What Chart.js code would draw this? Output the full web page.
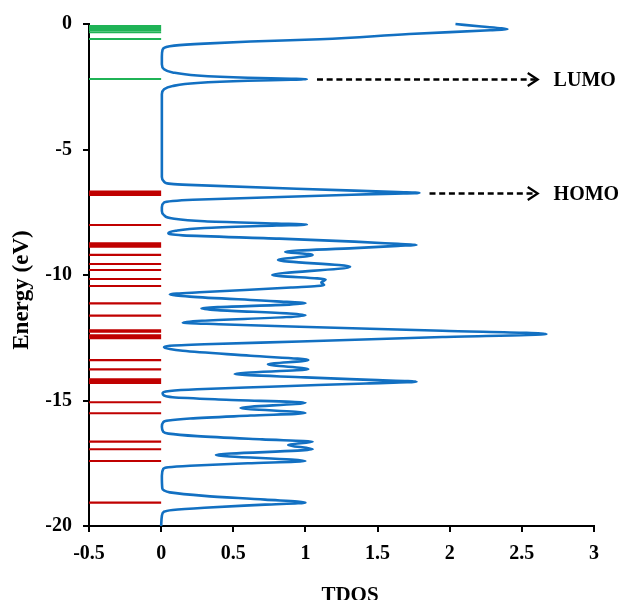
<!DOCTYPE html>
<html>
<head>
<meta charset="utf-8">
<script src="https://cdn.jsdelivr.net/npm/chart.js@4/dist/chart.umd.min.js"></script>
<style>
  html, body { margin: 0; padding: 0; background: #fff; }
  canvas { display: block; }
</style>
</head>
<body>
<canvas id="dos" width="623" height="600"></canvas>
<script>
// Total density of states: energy (eV) and TDOS value at each sampled point
const tdosEnergy = [
  0.00, -0.10, -0.17, -0.21, -0.25, -0.40, -0.61, -0.70, -0.78, -0.86, -0.93, -1.02, -1.30,
  -1.60, -1.80, -1.93, -2.05, -2.14, -2.18, -2.20, -2.22, -2.26, -2.35, -2.47, -2.60, -2.80,
  -4.50, -6.10, -6.28, -6.37, -6.41, -6.64, -6.70, -6.73, -6.76, -6.80, -7.00, -7.05, -7.11, -7.30,
  -7.45, -7.62, -7.75, -7.86, -7.95, -7.99, -8.03, -8.13, -8.24, -8.34, -8.42, -8.55, -8.67,
  -8.76, -8.80, -8.84, -8.93, -9.07, -9.20, -9.40, -9.67, -10.00, -10.18, -10.30, -10.40,
  -10.50, -10.68, -10.77, -10.86, -11.05, -11.13, -11.33, -11.60, -11.90, -11.96, -12.06,
  -12.22, -12.35, -12.47, -12.65, -12.76, -12.82, -12.88, -12.95, -13.02, -13.22, -13.39,
  -13.56, -13.75, -13.94, -14.08, -14.18, -14.25, -14.32, -14.45, -14.55, -14.62, -14.71,
  -14.80, -14.87, -14.97, -15.09, -15.30, -15.50, -15.60, -15.72, -15.80, -15.86, -16.05,
  -16.25, -16.32, -16.42, -16.55, -16.64, -16.77, -16.94, -17.17, -17.41, -17.50, -17.60,
  -17.66, -17.72, -18.00, -18.50, -18.58, -18.66, -18.80, -18.95, -19.07, -19.15, -19.27,
  -19.36, -19.43, -19.60, -20.00
];
const tdosValue = [
  2.04, 2.22, 2.36, 2.40, 2.28, 1.72, 1.10, 0.62, 0.30, 0.09, 0.03, 0.01, 0.005,
  0.005, 0.02, 0.08, 0.25, 0.60, 0.90, 1.01, 0.90, 0.60, 0.25, 0.08, 0.02, 0.005,
  0.005, 0.005, 0.02, 0.07, 0.19, 1.34, 1.64, 1.79, 1.62, 1.32, 0.22, 0.08, 0.02, 0.005,
  0.005, 0.02, 0.08, 0.30, 0.80, 1.01, 0.80, 0.30, 0.10, 0.05, 0.15, 0.82, 1.34,
  1.64, 1.77, 1.64, 1.34, 0.86, 1.05, 0.81, 1.31, 0.77, 1.14, 1.11, 1.13,
  0.90, 0.30, 0.06, 0.20, 0.80, 1.00, 0.28, 1.00, 0.15, 0.40, 0.96,
  1.95, 2.67, 1.95, 0.96, 0.30, 0.06, 0.02, 0.06, 0.15, 0.62, 1.02,
  0.74, 1.02, 0.51, 1.00, 1.45, 1.77, 1.42, 0.75, 0.25, 0.06, 0.01,
  0.02, 0.08, 0.45, 1.00, 0.55, 1.00, 0.62, 0.20, 0.05, 0.015, 0.005,
  0.015, 0.05, 0.25, 0.70, 1.05, 0.88, 1.05, 0.38, 1.00, 0.60, 0.20,
  0.05, 0.015, 0.005, 0.008, 0.02, 0.06, 0.30, 0.72, 1.00, 0.72, 0.30,
  0.08, 0.02, 0.005, 0.00
];

// Molecular orbital energies (eV)
const virtualLevels = [-0.08, -0.16, -0.24, -0.33, -0.60, -2.19];
const occupiedLevels = [
  -6.68, -6.75, -6.81, -8.01, -8.74, -8.80, -8.87, -9.20, -9.56, -9.80, -10.16, -10.44,
  -11.13, -11.62, -12.20, -12.26, -12.40, -12.46, -12.52, -13.39, -13.76,
  -14.16, -14.23, -14.30, -15.07, -15.51, -16.64, -16.94, -17.41, -19.07
];

// Frontier orbital markers
const noteLabels = ['LUMO', 'HOMO'];
const noteEnergy = [-2.2, -6.73];

const xTickStep = 0.5;
const yTickStep = 5;

const curvePoints = tdosEnergy.map((e, i) => ({ x: tdosValue[i], y: e }));

function levelSegments(levels) {
  const pts = [];
  levels.forEach(e => {
    pts.push({ x: -0.5, y: e }, { x: 0, y: e }, { x: null, y: null });
  });
  return pts;
}

const serif = '"Liberation Serif", "Times New Roman", serif';

const levelNotes = {
  id: 'levelNotes',
  afterDatasetsDraw(chart) {
    const { ctx, scales: { x, y } } = chart;
    const starts = [1.08, 1.86];
    const tip = x.getPixelForValue(2.61);
    const textX = x.getPixelForValue(2.72);
    ctx.save();
    noteLabels.forEach((label, i) => {
      const py = Math.round(y.getPixelForValue(noteEnergy[i])) + 0.5;
      const x0 = x.getPixelForValue(starts[i]);
      ctx.strokeStyle = '#000';
      ctx.lineWidth = 2.4;
      ctx.setLineDash([6, 3.7]);
      ctx.beginPath();
      ctx.moveTo(x0, py);
      ctx.lineTo(tip - 2, py);
      ctx.stroke();
      ctx.setLineDash([]);
      ctx.lineWidth = 2.2;
      ctx.beginPath();
      ctx.moveTo(tip - 10, py - 6.5);
      ctx.lineTo(tip, py);
      ctx.lineTo(tip - 10, py + 6.5);
      ctx.stroke();
      ctx.fillStyle = '#000';
      ctx.font = 'bold 20px ' + serif;
      ctx.textAlign = 'left';
      ctx.textBaseline = 'middle';
      ctx.fillText(label, textX, py + 1);
    });
    ctx.restore();
  },
  afterDraw(chart) {
    const { ctx } = chart;
    ctx.save();
    ctx.fillStyle = '#000';
    ctx.font = 'bold 23px ' + serif;
    ctx.textAlign = 'center';
    ctx.textBaseline = 'alphabetic';
    ctx.translate(28, 290);
    ctx.rotate(-Math.PI / 2);
    ctx.fillText('Energy (eV)', 0, 0);
    ctx.restore();
    ctx.save();
    ctx.fillStyle = '#000';
    ctx.font = 'bold 21px ' + serif;
    ctx.textAlign = 'center';
    ctx.textBaseline = 'alphabetic';
    ctx.fillText('TDOS', 350, 600.5);
    ctx.restore();
  }
};

const tickFont = { family: serif, size: 20, weight: 'bold' };
const plainNumber = v => String(Math.round(v * 10) / 10);

new Chart(document.getElementById('dos'), {
  type: 'line',
  data: {
    datasets: [
      {
        data: curvePoints,
        borderColor: '#1270c2',
        borderWidth: 2.6,
        cubicInterpolationMode: 'monotone',
        pointRadius: 0,
        fill: false,
        clip: false,
        borderJoinStyle: 'round'
      },
      {
        data: levelSegments(virtualLevels),
        borderColor: '#1fb356',
        borderWidth: 2.1,
        pointRadius: 0,
        tension: 0,
        spanGaps: false,
        borderCapStyle: 'butt'
      },
      {
        data: levelSegments(occupiedLevels),
        borderColor: '#c00000',
        borderWidth: 2.1,
        pointRadius: 0,
        tension: 0,
        spanGaps: false,
        borderCapStyle: 'butt'
      }
    ]
  },
  options: {
    responsive: false,
    animation: false,
    devicePixelRatio: 1,
    indexAxis: 'y',
    layout: { padding: { left: 0, right: 29, top: 24, bottom: 0 } },
    plugins: { legend: { display: false }, tooltip: { enabled: false } },
    scales: {
      x: {
        type: 'linear',
        position: 'bottom',
        min: -0.5,
        max: 3,
        ticks: { stepSize: xTickStep, font: tickFont, color: '#000', padding: 10, maxRotation: 0, callback: plainNumber },
        grid: { display: true, drawOnChartArea: false, drawTicks: true, tickLength: 6, color: '#000', lineWidth: 2 },
        border: { display: true, color: '#000', width: 2 },
        afterFit(scale) { scale.height = 74; }
      },
      y: {
        type: 'linear',
        position: 'left',
        min: -20,
        max: 0,
        ticks: { stepSize: yTickStep, font: tickFont, color: '#000', padding: 11, callback: plainNumber },
        grid: { display: true, drawOnChartArea: false, drawTicks: true, tickLength: 6, color: '#000', lineWidth: 2 },
        border: { display: true, color: '#000', width: 2 },
        afterFit(scale) { scale.width = 89; }
      }
    }
  },
  plugins: [levelNotes]
});
</script>
</body>
</html>
